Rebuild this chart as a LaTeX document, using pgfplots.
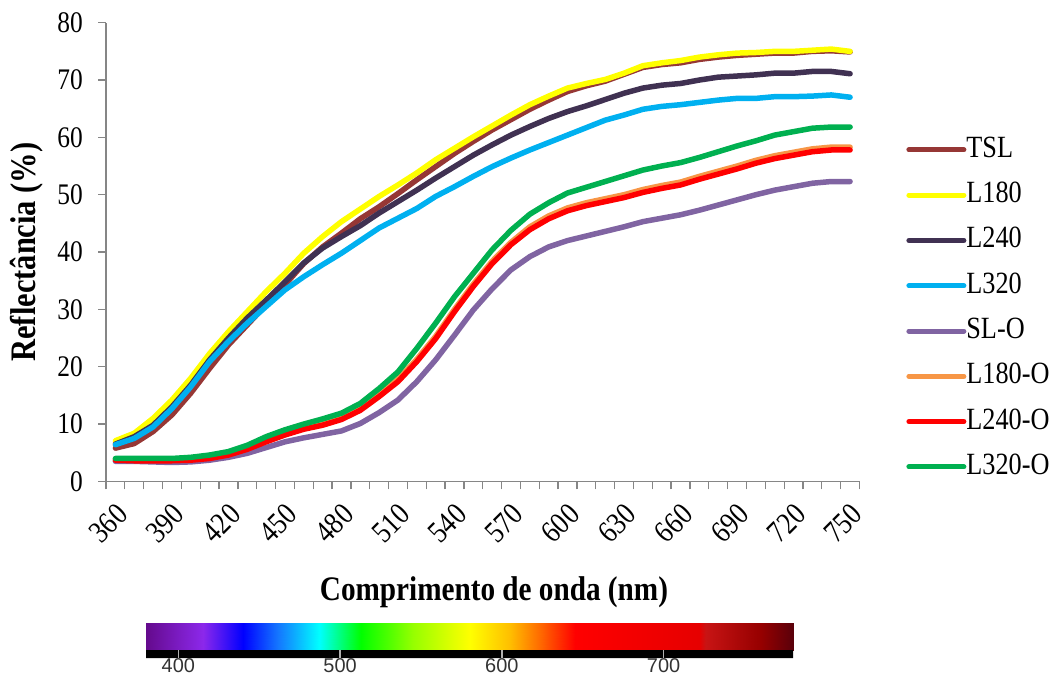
\documentclass[border=0pt]{standalone}
\usepackage{fontspec}
\setmainfont{Liberation Serif}[FakeStretch=0.85]
\newfontfamily\cbfont{Liberation Sans}
\usepackage{pgfplots}
\usepackage{pgfplotstable}
\pgfplotsset{compat=1.18}

\definecolor{cTSL}{RGB}{150,55,53}
\definecolor{cL180}{RGB}{255,255,0}
\definecolor{cL240}{RGB}{64,49,82}
\definecolor{cL320}{RGB}{0,176,240}
\definecolor{cSLO}{RGB}{128,100,162}
\definecolor{cL180O}{RGB}{247,150,70}
\definecolor{cL240O}{RGB}{255,0,0}
\definecolor{cL320O}{RGB}{0,176,80}
\definecolor{axgray}{RGB}{134,134,134}

\pgfplotstableread{
wl TSL L180 L240 L320 SLO L180O L240O L320O
360 5.8 7.1 6.5 6.4 3.5 3.9 3.7 4.0
370 6.6 8.4 7.8 7.5 3.5 3.8 3.6 4.0
380 8.7 11.0 9.8 9.5 3.4 3.8 3.6 4.0
390 11.6 14.2 13.0 12.7 3.3 3.8 3.6 4.0
400 15.4 18.0 16.8 16.5 3.4 3.9 3.7 4.2
410 19.7 22.3 21.2 20.9 3.7 4.2 4.0 4.6
420 23.8 26.1 25.0 24.4 4.2 4.8 4.6 5.2
430 27.3 29.6 28.5 27.6 4.9 5.9 5.6 6.3
440 30.8 33.1 31.6 30.5 5.9 7.2 6.9 7.8
450 34.3 36.3 34.8 33.4 6.9 8.4 8.1 9.0
460 38.0 39.8 38.1 35.7 7.6 9.4 9.1 10.0
470 40.9 42.7 40.7 37.8 8.2 10.1 9.8 10.9
480 43.3 45.3 42.7 39.8 8.8 11.1 10.8 11.9
490 45.8 47.5 44.6 42.0 10.1 12.8 12.4 13.6
500 47.9 49.7 46.8 44.2 12.0 15.2 14.8 16.2
510 50.2 51.7 48.8 45.9 14.2 17.8 17.4 19.1
520 52.6 53.8 50.8 47.6 17.4 21.3 20.9 23.2
530 54.9 56.1 52.9 49.7 21.2 25.3 24.9 27.6
540 57.2 58.1 54.9 51.4 25.5 30.0 29.6 32.2
550 59.3 60.1 56.9 53.2 29.9 34.4 34.0 36.3
560 61.3 62.0 58.7 54.9 33.6 38.4 38.0 40.4
570 63.1 63.9 60.4 56.4 36.9 41.7 41.3 43.8
580 64.9 65.7 61.9 57.8 39.2 44.4 43.9 46.6
590 66.5 67.2 63.3 59.1 40.9 46.3 45.8 48.6
600 68.0 68.6 64.5 60.4 42.0 47.7 47.2 50.3
610 69.0 69.4 65.5 61.7 42.8 48.6 48.1 51.3
620 69.8 70.1 66.6 63.0 43.6 49.3 48.8 52.3
630 71.0 71.2 67.7 63.9 44.4 50.0 49.5 53.3
640 72.2 72.5 68.6 64.9 45.3 50.9 50.4 54.3
650 72.7 73.0 69.1 65.4 45.9 51.6 51.1 55.0
660 73.0 73.4 69.4 65.7 46.5 52.2 51.7 55.6
670 73.6 74.0 70.0 66.1 47.3 53.2 52.7 56.5
680 74.0 74.4 70.5 66.5 48.2 54.1 53.6 57.5
690 74.3 74.7 70.7 66.8 49.1 55.0 54.5 58.5
700 74.5 74.8 70.9 66.8 50.0 56.0 55.5 59.4
710 74.7 75.0 71.2 67.1 50.8 56.8 56.3 60.4
720 74.7 75.0 71.2 67.1 51.4 57.4 56.9 61.0
730 75.0 75.2 71.5 67.2 52.0 58.0 57.5 61.6
740 75.1 75.4 71.5 67.4 52.3 58.3 57.8 61.8
750 74.9 75.0 71.1 67.0 52.3 58.3 57.8 61.8
}\spectra

\begin{document}
\begin{tikzpicture}
\useasboundingbox (0,0) rectangle (1054bp,677bp);
\begin{axis}[
  at={(106bp,195.6bp)}, anchor=south west,
  scale only axis, width=753.5bp, height=458.7bp,
  xmin=355, xmax=755, ymin=0, ymax=80,
  /pgf/number format/assume math mode=true,
  axis x line=bottom, axis y line=left,
  axis line style={-, draw=axgray, line width=1.3bp},
  tick style={draw=axgray, line width=1.3bp},
  tick align=outside,
  xtick={360,390,...,750},
  major x tick style={draw=none},
  minor xtick={355,365,...,755},
  minor tick length=8bp,
  ytick={0,10,...,80},
  major tick length=8bp,
  xticklabel style={font=\fontsize{31}{33}\selectfont, inner sep=0pt, xshift=7bp, yshift=-20bp, rotate=45, anchor=east},
  yticklabel style={font=\fontsize{30}{32}\selectfont, inner sep=0pt, xshift=-15bp},
  legend style={draw=none, fill=none, at={(1.058,0.757)}, anchor=north west,
    font=\fontsize{31}{33}\selectfont, row sep=18.3bp,
    nodes={inner sep=0pt, text height=21bp, text depth=6bp}},
  legend cell align=left,
  legend image code/.code={\draw[#1, line width=5bp, line cap=round] (0bp,0bp) -- (55bp,0bp);},
  every axis plot/.append style={line width=5.5bp, line join=round, line cap=round},
  clip=false,
]
\addplot[cTSL] table[x=wl, y=TSL] {\spectra};
\addplot[cL180] table[x=wl, y=L180] {\spectra};
\addplot[cL240] table[x=wl, y=L240] {\spectra};
\addplot[cL320] table[x=wl, y=L320] {\spectra};
\addplot[cSLO] table[x=wl, y=SLO] {\spectra};
\addplot[cL180O] table[x=wl, y=L180O] {\spectra};
\addplot[cL240O] table[x=wl, y=L240O] {\spectra};
\addplot[cL320O] table[x=wl, y=L320O] {\spectra};
\legend{TSL, L180, L240, L320, SL-O, L180-O, L240-O, L320-O}
\end{axis}

\node[rotate=90, font=\bfseries\fontsize{36}{38}\selectfont] at (27bp,425bp) {Reflectância (\%)};
\node[font=\bfseries\fontsize{34.5}{36}\selectfont] at (494bp,85bp) {Comprimento de onda (nm)};

\begin{axis}[
  at={(146bp,19bp)}, anchor=south west,
  scale only axis, width=647bp, height=35bp,
  xmin=380, xmax=780, ymin=-8, ymax=27,
  /pgf/number format/assume math mode=true,
  axis line style={draw=none},
  ytick=\empty,
  xtick={400,500,600,700},
  xtick pos=left,
  tick align=inside,
  major tick length=8bp,
  tick style={draw=gray!60, line width=1.3bp},
  xticklabel style={font=\cbfont\fontsize{20}{22}\selectfont, text=black!80, inner sep=0pt, yshift=0bp},
  axis on top,
  colormap={spec}{rgb255(0pt)=(100,10,140); rgb255(35pt)=(140,40,235); rgb255(60pt)=(0,0,255); rgb255(82pt)=(20,120,255); rgb255(107pt)=(0,255,255); rgb255(133pt)=(0,255,0); rgb255(165pt)=(150,255,0); rgb255(200pt)=(255,255,0); rgb255(225pt)=(255,190,0); rgb255(245pt)=(255,100,0); rgb255(265pt)=(255,0,0); rgb255(342pt)=(230,0,0); rgb255(346pt)=(200,20,20); rgb255(380pt)=(150,0,0); rgb255(400pt)=(90,0,10)},
  point meta min=380, point meta max=780,
]
\addplot[surf, shader=interp, point meta=x, mesh/cols=41] coordinates {
(380,0) (390,0) (400,0) (410,0) (420,0) (430,0) (440,0) (450,0) (460,0) (470,0)
(480,0) (490,0) (500,0) (510,0) (520,0) (530,0) (540,0) (550,0) (560,0) (570,0)
(580,0) (590,0) (600,0) (610,0) (620,0) (630,0) (640,0) (650,0) (660,0) (670,0)
(680,0) (690,0) (700,0) (710,0) (720,0) (730,0) (740,0) (750,0) (760,0) (770,0) (780,0)
(380,27) (390,27) (400,27) (410,27) (420,27) (430,27) (440,27) (450,27) (460,27) (470,27)
(480,27) (490,27) (500,27) (510,27) (520,27) (530,27) (540,27) (550,27) (560,27) (570,27)
(580,27) (590,27) (600,27) (610,27) (620,27) (630,27) (640,27) (650,27) (660,27) (670,27)
(680,27) (690,27) (700,27) (710,27) (720,27) (730,27) (740,27) (750,27) (760,27) (770,27) (780,27)
};
\addplot[fill=black, draw=none] coordinates {(380,-8) (780,-8) (780,0) (380,0) (380,-8)};
\end{axis}
\end{tikzpicture}
\end{document}
